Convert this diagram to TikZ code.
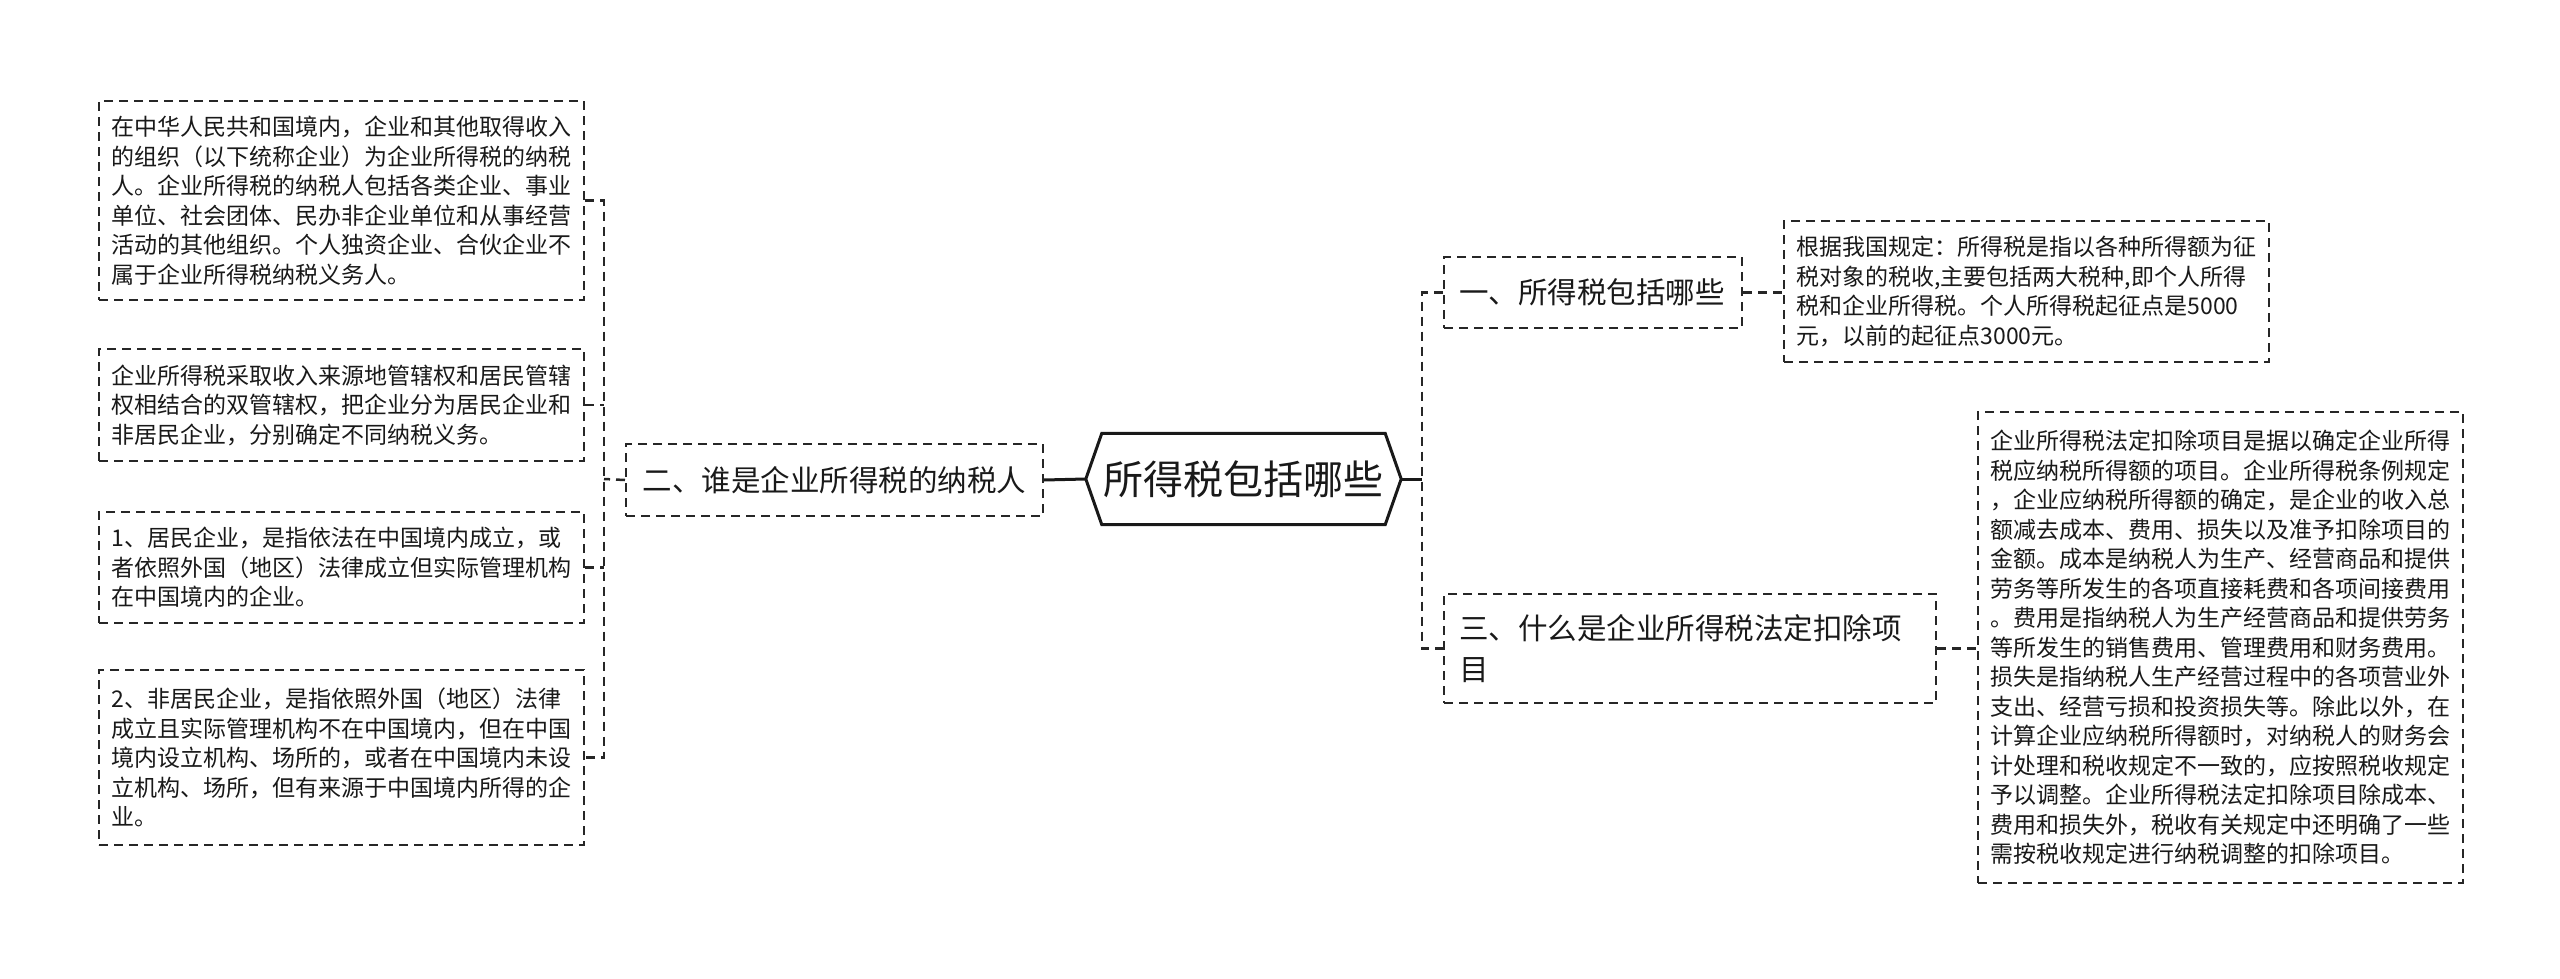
\documentclass[tikz,border=0pt]{standalone}
\usepackage{fontspec}
\newfontfamily\cjk{Noto Sans CJK SC}
\usetikzlibrary{calc}
\begin{document}
\begin{tikzpicture}[x=1pt,y=-1pt,
  box/.style={draw=black!85, line width=2pt, dash pattern=on 9pt off 6pt, align=left, anchor=north west, inner ysep=0pt, text=black!90},
  leaf/.style={box, font=\cjk\fontsize{23}{29.5}\selectfont, inner xsep=12.5pt, text width=460pt},
  topic/.style={box, font=\cjk\fontsize{29.5}{41}\selectfont, inner xsep=15pt},
  conn/.style={draw=black!85, line width=2.5pt, dash pattern=on 9pt off 6pt},
  mainline/.style={draw=black!90, line width=3pt}
]
\useasboundingbox (0,0) rectangle (2560,979);

% central node
\node[font=\cjk\fontsize{40}{48}\selectfont, text=black!90, minimum width=315pt, minimum height=91pt, inner sep=0pt] (c) at (1243.5,479) {所得税包括哪些};
\draw[mainline, line join=miter] ($(c.north west)+(16,0)$) -- ($(c.north east)+(-16,0)$) -- (c.east) -- ($(c.south east)+(-16,0)$) -- ($(c.south west)+(16,0)$) -- (c.west) -- cycle;

% left branch
\node[topic, text width=384pt, inner xsep=16.5pt, minimum height=72pt] (b) at (625,443) {二、谁是企业所得税的纳税人};

\node[leaf, minimum height=199pt] (L1) at (98,100) {在中华人民共和国境内，企业和其他取得收入\\的组织（以下统称企业）为企业所得税的纳税\\人。企业所得税的纳税人包括各类企业、事业\\单位、社会团体、民办非企业单位和从事经营\\活动的其他组织。个人独资企业、合伙企业不\\属于企业所得税纳税义务人。};
\node[leaf, minimum height=112pt] (L2) at (98,348) {企业所得税采取收入来源地管辖权和居民管辖\\权相结合的双管辖权，把企业分为居民企业和\\非居民企业，分别确定不同纳税义务。};
\node[leaf, minimum height=111pt] (L3) at (98,511) {1、居民企业，是指依法在中国境内成立，或\\者依照外国（地区）法律成立但实际管理机构\\在中国境内的企业。};
\node[leaf, minimum height=175pt] (L4) at (98,669) {2、非居民企业，是指依照外国（地区）法律\\成立且实际管理机构不在中国境内，但在中国\\境内设立机构、场所的，或者在中国境内未设\\立机构、场所，但有来源于中国境内所得的企\\业。};

% right branch
\node[topic, text width=268pt, minimum height=71pt] (n1) at (1443,256) {一、所得税包括哪些};
\node[leaf, minimum height=141pt] (r1) at (1783,220) {根据我国规定：所得税是指以各种所得额为征\\税对象的税收,主要包括两大税种,即个人所得\\税和企业所得税。个人所得税起征点是5000\\元，以前的起征点3000元。};
\node[topic, text width=462pt, minimum height=109pt] (n3) at (1443,593) {三、什么是企业所得税法定扣除项\\目};
\node[leaf, minimum height=471pt] (r2) at (1977,411) {企业所得税法定扣除项目是据以确定企业所得\\税应纳税所得额的项目。企业所得税条例规定\\，企业应纳税所得额的确定，是企业的收入总\\额减去成本、费用、损失以及准予扣除项目的\\金额。成本是纳税人为生产、经营商品和提供\\劳务等所发生的各项直接耗费和各项间接费用\\。费用是指纳税人为生产经营商品和提供劳务\\等所发生的销售费用、管理费用和财务费用。\\损失是指纳税人生产经营过程中的各项营业外\\支出、经营亏损和投资损失等。除此以外，在\\计算企业应纳税所得额时，对纳税人的财务会\\计处理和税收规定不一致的，应按照税收规定\\予以调整。企业所得税法定扣除项目除成本、\\费用和损失外，税收有关规定中还明确了一些\\需按税收规定进行纳税调整的扣除项目。};

% junctions
\coordinate (lj) at (604,479);
\coordinate (rj) at (1422,479);

% connectors
\draw[mainline] (b.east) -- (c.west);
\draw[mainline] (c.east) -- (rj);
\draw[conn] (b.west) -- (lj);
\draw[conn] (L1.east) -- (L1.east -| lj) -- (L4.east -| lj) -- (L4.east);
\draw[conn] (L2.east) -- (L2.east -| lj);
\draw[conn] (L3.east) -- (L3.east -| lj);
\draw[conn] (n1.west) -- (n1.west -| rj) -- (n3.west -| rj) -- (n3.west);
\draw[conn] (n1.east) -- (n1.east -| r1.west);
\draw[conn] (n3.east) -- (n3.east -| r2.west);
\end{tikzpicture}
\end{document}
